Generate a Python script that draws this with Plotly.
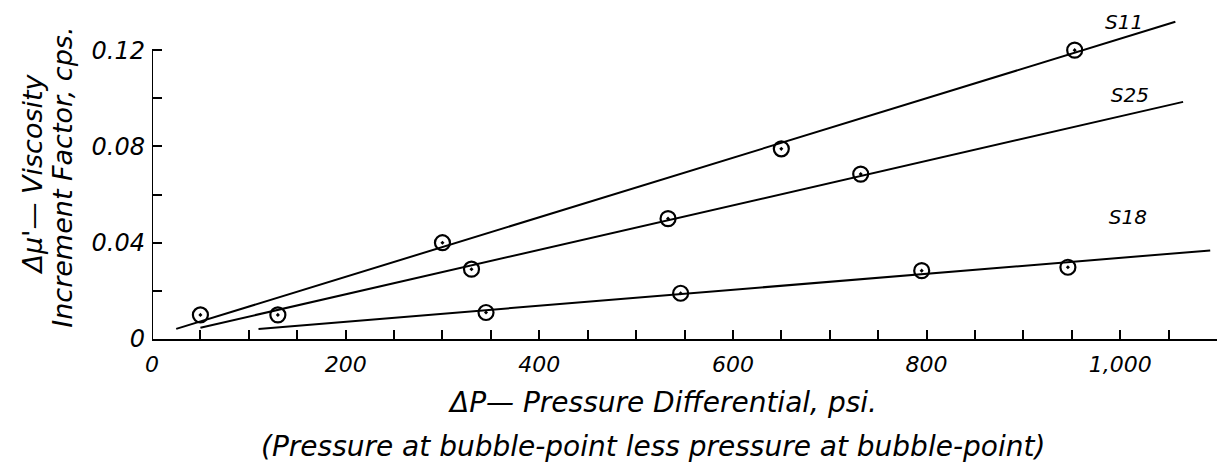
import plotly.graph_objects as go

# Measured points: pressure differential (psi) vs viscosity increment factor (cps)
s11_dp = [50, 300, 650, 953]
s11_mu = [0.010, 0.040, 0.079, 0.120]
s25_dp = [130, 330, 533, 732]
s25_mu = [0.010, 0.029, 0.050, 0.0685]
s18_dp = [345, 546, 795, 946]
s18_mu = [0.011, 0.019, 0.0284, 0.0298]

# Hand-fitted straight lines (end points)
s11_fit_dp = [25, 1057]
s11_fit_mu = [0.0042, 0.1318]
s25_fit_dp = [50, 1065]
s25_fit_mu = [0.0047, 0.0985]
s18_fit_dp = [110, 1093]
s18_fit_mu = [0.0042, 0.0368]

# Curve labels
curve_names = ["S11", "S25", "S18"]
label_dp = [1004, 1010, 1008]
label_mu = [0.131, 0.1005, 0.050]

# Axis ticks
x_ticks = list(range(0, 1101, 50))
x_text = {0: "0", 200: "200", 400: "400", 600: "600", 800: "800", 1000: "1,000"}
y_ticks = [0, 0.02, 0.04, 0.06, 0.08, 0.10, 0.12]
y_text = {0: "0", 0.04: "0.04", 0.08: "0.08", 0.12: "0.12"}

FONT = "DejaVu Sans"
INK = "black"

fig = go.Figure()

for fx, fy in [(s11_fit_dp, s11_fit_mu), (s25_fit_dp, s25_fit_mu), (s18_fit_dp, s18_fit_mu)]:
    fig.add_trace(go.Scatter(x=fx, y=fy, mode="lines",
                             line=dict(color=INK, width=2), hoverinfo="skip"))

for px, py in [(s11_dp, s11_mu), (s25_dp, s25_mu), (s18_dp, s18_mu)]:
    fig.add_trace(go.Scatter(x=px, y=py, mode="markers",
                             marker=dict(symbol="circle-open-dot", size=15, color=INK,
                                         line=dict(color=INK, width=2.2))))

fig.add_trace(go.Scatter(x=label_dp, y=label_mu, mode="text", text=curve_names,
                         textfont=dict(family=FONT, size=20, color=INK, style="italic"),
                         hoverinfo="skip"))

# Vertical axis drawn only up to the top labelled tick
fig.add_shape(type="line", xref="x", yref="y", x0=0, x1=0, y0=0, y1=max(y_ticks),
              line=dict(color=INK, width=2))

fig.update_layout(
    width=1218, height=466,
    margin=dict(l=152, r=1, t=2, b=127),
    paper_bgcolor="white", plot_bgcolor="white",
    showlegend=False,
    font=dict(family=FONT, size=21, color=INK, style="italic"),
    xaxis=dict(
        range=[0, 1100], showgrid=False, zeroline=False,
        showline=True, linecolor=INK, linewidth=2,
        ticks="inside", ticklen=9, tickwidth=2, tickcolor=INK,
        tickvals=x_ticks, ticktext=[x_text.get(v, "") for v in x_ticks],
        ticklabelstandoff=5,
        tickfont=dict(family=FONT, size=22, color=INK, style="italic"),
    ),
    yaxis=dict(
        range=[0, 0.14], showgrid=False, zeroline=False, showline=False,
        ticks="inside", ticklen=10, tickwidth=2, tickcolor=INK,
        tickvals=y_ticks, ticktext=[y_text.get(v, "") for v in y_ticks],
        ticklabelstandoff=6,
        tickfont=dict(family=FONT, size=24, color=INK, style="italic"),
    ),
)

# Axis titles
fig.add_annotation(xref="paper", yref="paper", x=0.479, y=-0.187, yanchor="middle",
                   text="ΔP— Pressure Differential, psi.", showarrow=False,
                   font=dict(family=FONT, size=28, color=INK, style="italic"))
fig.add_annotation(xref="paper", yref="paper", x=0.47, y=-0.32, yanchor="middle",
                   text="(Pressure at bubble-point less pressure at bubble-point)",
                   showarrow=False,
                   font=dict(family=FONT, size=28, color=INK, style="italic"))
fig.add_annotation(xref="paper", yref="paper", x=-0.112, xanchor="center", y=0.49,
                   text="Δμ'— Viscosity", textangle=-90, showarrow=False,
                   font=dict(family=FONT, size=27, color=INK, style="italic"))
fig.add_annotation(xref="paper", yref="paper", x=-0.084, xanchor="center", y=0.48,
                   text="Increment Factor, cps.", textangle=-90, showarrow=False,
                   font=dict(family=FONT, size=27, color=INK, style="italic"))

fig.write_html("out.html")
